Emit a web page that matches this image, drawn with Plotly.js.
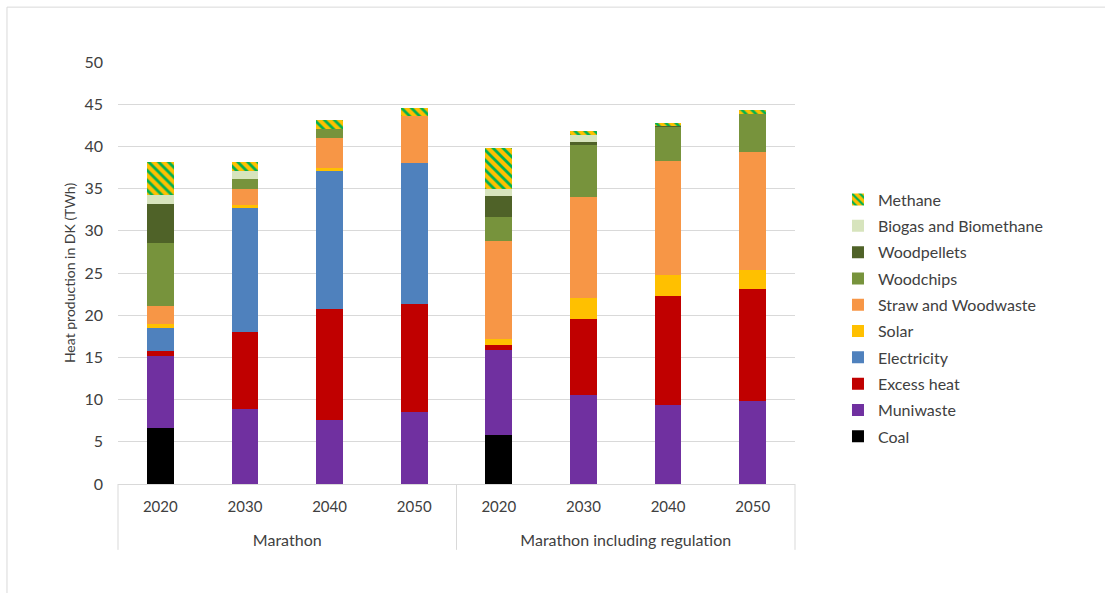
<!DOCTYPE html>
<html>
<head>
<meta charset="utf-8">
<script src="https://cdn.plot.ly/plotly-3.0.1.min.js"></script>
<style>
  html, body { margin: 0; padding: 0; background: #ffffff; }
  #chart { width: 1105px; height: 593px; }
</style>
</head>
<body>
<div id="chart"></div>
<script>
// Scenarios, each drawn on its own half of the category axis
const scenarios = ['Marathon', 'Marathon including regulation'];
const years = ['2020', '2030', '2040', '2050'];

// Heat production per source (TWh): first four values = Marathon,
// last four = Marathon including regulation; stacked from the bottom up
const coal        = [6.6, 0,    0,    0,    5.8,  0,    0,    0];
const muniwaste   = [8.6, 8.9,  7.6,  8.5,  10.1, 10.5, 9.4,  9.8];
const excessHeat  = [0.6, 9.1,  13.1, 12.8, 0.6,  9.1,  12.9, 13.3];
const electricity = [2.7, 14.7, 16.4, 16.7, 0,    0,    0,    0];
const solar       = [0.5, 0.4,  0.4,  0,    0.7,  2.4,  2.5,  2.2];
const straw       = [2.1, 1.9,  3.5,  5.6,  11.6, 12.0, 13.5, 14.0];
const woodchips   = [7.5, 1.1,  1.1,  0,    2.8,  6.2,  4.0,  4.5];
const woodpellets = [4.6, 0,    0,    0,    2.5,  0.3,  0.1,  0];
const biogas      = [1.1, 1.0,  0,    0,    0.9,  0.9,  0,    0];
const methane     = [3.8, 1.1,  1.0,  1.0,  4.8,  0.4,  0.35, 0.5];

const yTicks = [0, 5, 10, 15, 20, 25, 30, 35, 40, 45, 50];

const series = [
  { name: 'Coal', y: coal, color: '#000000' },
  { name: 'Muniwaste', y: muniwaste, color: '#7030A0' },
  { name: 'Excess heat', y: excessHeat, color: '#C00000' },
  { name: 'Electricity', y: electricity, color: '#4F81BD' },
  { name: 'Solar', y: solar, color: '#FFC000' },
  { name: 'Straw and Woodwaste', y: straw, color: '#F79646' },
  { name: 'Woodchips', y: woodchips, color: '#77933C' },
  { name: 'Woodpellets', y: woodpellets, color: '#4F6228' },
  { name: 'Biogas and Biomethane', y: biogas, color: '#D7E4BD' },
  { name: 'Methane', y: methane, color: '#FFC000',
    pattern: { shape: '\\', fgcolor: '#00B050', bgcolor: '#FFC000', size: 7, solidity: 0.4, fillmode: 'replace' } }
];

const axisRefs = ['x', 'x2'];
const traces = [];
scenarios.forEach((scen, si) => {
  series.forEach((s, i) => {
    const marker = { color: s.color, line: { width: 0 } };
    if (s.pattern) marker.pattern = s.pattern;
    traces.push({
      type: 'bar',
      name: s.name,
      legendgroup: s.name,
      legendrank: series.length - i,
      showlegend: si === 0,
      xaxis: axisRefs[si],
      yaxis: 'y',
      x: years,
      y: s.y.slice(si * years.length, (si + 1) * years.length),
      marker: marker,
      hovertemplate: scen + ' %{x}<br>' + s.name + ': %{y} TWh<extra></extra>'
    });
  });
});

const fontFamily = 'Lato, "Open Sans", sans-serif';
const textColor = '#404040';
const font = { family: fontFamily, size: 16, color: textColor };
const yearFont = { family: fontFamily, size: 15, color: textColor };
const yTitleFont = { family: fontFamily, size: 14, color: textColor };
const lineGrey = '#d9d9d9';

function categoryAxis(domain, title) {
  return {
    type: 'category',
    domain: domain,
    anchor: 'y',
    showline: true,
    linecolor: lineGrey,
    linewidth: 1,
    showgrid: false,
    zeroline: false,
    ticks: '',
    ticklabelstandoff: 9,
    tickfont: yearFont,
    fixedrange: true,
    title: { text: title, font: font, standoff: 20 }
  };
}

const layout = {
  width: 1105,
  height: 593,
  margin: { l: 118, r: 310, t: 62, b: 109 },
  paper_bgcolor: '#ffffff',
  plot_bgcolor: '#ffffff',
  font: font,
  barmode: 'stack',
  bargap: 0.685,
  showlegend: true,
  legend: {
    x: 1.0635, xanchor: 'left',
    y: 0.393, yanchor: 'middle',
    traceorder: 'grouped',
    tracegroupgap: 2.5,
    font: font,
    bgcolor: 'rgba(0,0,0,0)'
  },
  xaxis: categoryAxis([0, 0.5], scenarios[0]),
  xaxis2: categoryAxis([0.5, 1], scenarios[1]),
  yaxis: {
    anchor: 'x',
    range: [0, 50],
    tickvals: yTicks,
    ticktext: yTicks.map(String),
    showgrid: true,
    gridcolor: lineGrey,
    gridwidth: 1,
    zeroline: false,
    showline: false,
    ticks: '',
    ticklabelstandoff: 14,
    tickfont: font,
    title: { text: 'Heat production in DK (TWh)', font: yTitleFont, standoff: 5 }
  },
  shapes: [
    // outer chart frame
    { type: 'rect', xref: 'paper', yref: 'paper',
      x0: -0.164, x1: 1.6, y0: -0.3, y1: 1.130,
      line: { color: lineGrey, width: 1 }, fillcolor: 'rgba(0,0,0,0)', layer: 'below' },
    // scenario dividers below the category axis
    ...[0, 0.5, 1].map(px => ({
      type: 'line', xref: 'paper', yref: 'paper',
      x0: px, x1: px, y0: 0, y1: -0.156,
      line: { color: lineGrey, width: 1 }
    }))
  ]
};

Plotly.newPlot('chart', traces, layout, { displayModeBar: false, staticPlot: true });
</script>
</body>
</html>
